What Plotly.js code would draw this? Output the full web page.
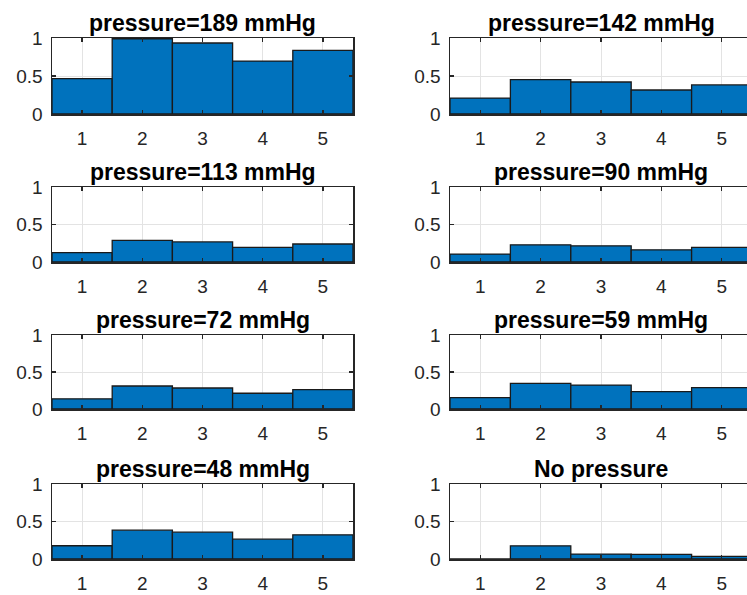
<!DOCTYPE html>
<html>
<head>
<meta charset="utf-8">
<script src="https://cdn.plot.ly/plotly-3.0.1.min.js"></script>
<style>
  html, body { margin: 0; padding: 0; overflow: hidden; background: #ffffff; }
  #chart { width: 760px; height: 595px; }
</style>
</head>
<body>
<div id="chart"></div>
<script>
// ---- Data ----
const categories = [1, 2, 3, 4, 5];
const xTickLabels = ['1', '2', '3', '4', '5'];
const yTickVals = [0, 0.5, 1];
const yTickLabels = ['0', '0.5', '1'];

const panelTitles = [
  'pressure=189 mmHg', 'pressure=142 mmHg',
  'pressure=113 mmHg', 'pressure=90 mmHg',
  'pressure=72 mmHg',  'pressure=59 mmHg',
  'pressure=48 mmHg',  'No pressure'
];

const p189 = [0.465, 0.99, 0.934, 0.697, 0.838];
const p142 = [0.21, 0.452, 0.421, 0.316, 0.382];
const p113 = [0.124, 0.289, 0.267, 0.196, 0.24];
const p90  = [0.106, 0.229, 0.216, 0.163, 0.194];
const p72  = [0.138, 0.311, 0.284, 0.213, 0.262];
const p59  = [0.155, 0.345, 0.323, 0.235, 0.288];
const p48  = [0.177, 0.385, 0.358, 0.265, 0.323];
const pNone = [0.0, 0.176, 0.066, 0.062, 0.035];

const seriesList = [p189, p142, p113, p90, p72, p59, p48, pNone];

// ---- Layout geometry (pixels) ----
const W = 760, H = 595;
const colPx = [[52, 353], [450, 752]];
const rowPx = [[38, 114], [187, 262], [335, 409], [484, 559]];

const barColor = '#0072BD';
const axisColor = '#262626';
const gridColor = '#e3e3e3';
const fontFamily = '"Liberation Sans", Arial, Helvetica, sans-serif';

const traces = [];
const layout = {
  width: W, height: H,
  margin: {l: 0, r: 0, t: 0, b: 0},
  paper_bgcolor: '#ffffff',
  plot_bgcolor: '#ffffff',
  showlegend: false,
  bargap: 0,
  font: {family: fontFamily, color: axisColor},
  annotations: []
};

seriesList.forEach((vals, i) => {
  const row = Math.floor(i / 2), col = i % 2;
  const n = i + 1;
  const xa = n === 1 ? 'x' : 'x' + n;
  const ya = n === 1 ? 'y' : 'y' + n;
  traces.push({
    type: 'bar', x: categories, y: vals, width: 1,
    xaxis: xa, yaxis: ya,
    marker: {color: barColor, line: {color: '#1a1a1a', width: 1.3}},
    hoverinfo: 'x+y'
  });
  const xd = [colPx[col][0] / W, colPx[col][1] / W];
  const yd = [1 - rowPx[row][1] / H, 1 - rowPx[row][0] / H];
  const xKey = n === 1 ? 'xaxis' : 'xaxis' + n;
  const yKey = n === 1 ? 'yaxis' : 'yaxis' + n;
  layout[xKey] = {
    domain: xd, anchor: ya, range: [0.5, 5.5],
    tickmode: 'array', tickvals: categories, ticktext: xTickLabels,
    ticks: 'inside', ticklen: 4, tickwidth: 1.3, tickcolor: axisColor,
    showline: true, linecolor: axisColor, linewidth: 1.5, mirror: 'ticks',
    showgrid: true, gridcolor: gridColor, gridwidth: 1,
    zeroline: false, fixedrange: true,
    tickfont: {size: 19, color: axisColor, family: fontFamily},
    ticklabelstandoff: 7
  };
  layout[yKey] = {
    domain: yd, anchor: xa, range: [0, 1],
    tickmode: 'array', tickvals: yTickVals, ticktext: yTickLabels,
    ticks: 'inside', ticklen: 4, tickwidth: 1.3, tickcolor: axisColor,
    showline: true, linecolor: axisColor, linewidth: 1.5, mirror: 'ticks',
    showgrid: true, gridcolor: gridColor, gridwidth: 1,
    zeroline: false, fixedrange: true,
    tickfont: {size: 19, color: axisColor, family: fontFamily},
    ticklabelstandoff: 4
  };
  layout.annotations.push({
    text: '<b>' + panelTitles[i] + '</b>',
    xref: 'paper', yref: 'paper',
    x: (xd[0] + xd[1]) / 2, y: yd[1],
    xanchor: 'center', yanchor: 'bottom', yshift: 0,
    showarrow: false,
    font: {size: 23, color: '#000000', family: fontFamily}
  });
});

Plotly.newPlot('chart', traces, layout, {displayModeBar: false, staticPlot: true});
</script>
</body>
</html>
